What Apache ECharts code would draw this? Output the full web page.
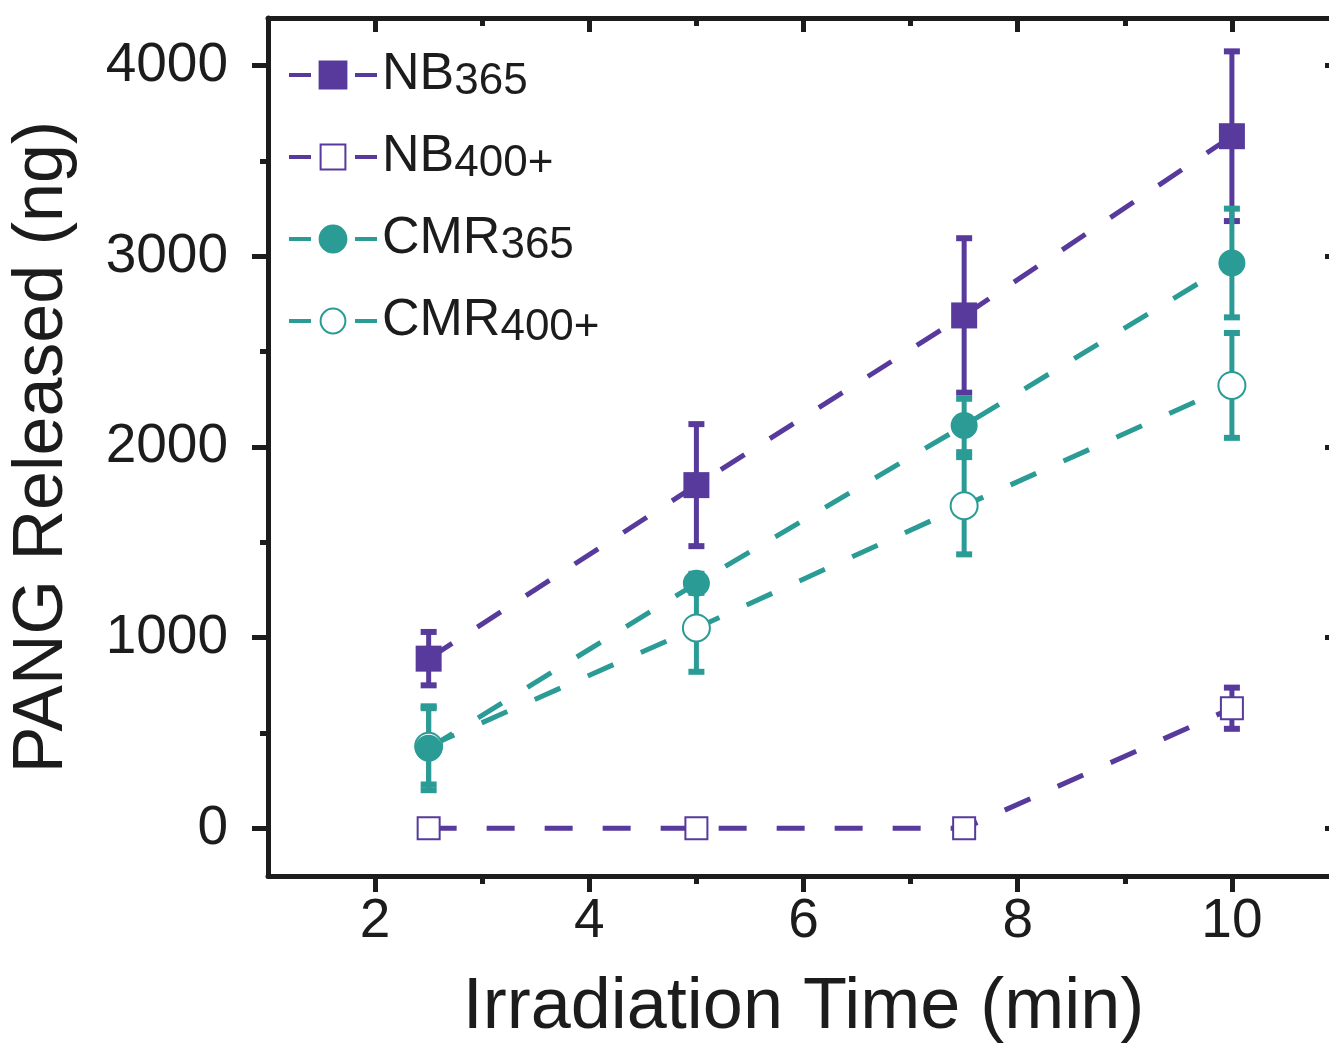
<!DOCTYPE html>
<html>
<head>
    <meta charset="utf-8">
    <title>PANG Released</title>
    <script src="https://cdn.jsdelivr.net/npm/echarts@6.0.0/dist/echarts.min.js"></script>
    <style>
        html, body {
            margin: 0;
            padding: 0;
            background: #fff;
        }

        #chart {
            width: 1329px;
            height: 1051px;
        }
    </style>
</head>
<body>
<div id="chart"></div>
<script type="text/javascript">
    // 照射时间 (min)
    var times = [2.5, 5, 7.5, 10];

    var nb365 = [890, 1800, 2690, 3630];
    var nb365Err = [140, 320, 405, 445];

    var nb400 = [0, 0, 0, 630];
    var nb400Err = [0, 0, 0, 108];

    var cmr365 = [420, 1285, 2113, 2965];
    var cmr365Err = [220, 50, 140, 285];

    var cmr400 = [430, 1051, 1692, 2323];
    var cmr400Err = [200, 230, 255, 275];

    var xLabels = [2, 4, 6, 8, 10];
    var xMinor = [3, 5, 7, 9];
    var yLabels = [0, 1000, 2000, 3000, 4000];
    var yMinor = [500, 1500, 2500, 3500];

    var purple = '#573a9b';
    var teal = '#2b9b95';
    var ink = '#1c1c1c';
    var font = '"Liberation Sans", Arial, sans-serif';

    function pairs(ys) {
        return times.map(function (t, i) {
            return [t, ys[i]];
        });
    }

    function lineSeries(name, ys, symbol, size, color) {
        return {
            name: name,
            type: 'line',
            data: pairs(ys),
            symbol: symbol,
            symbolSize: size,
            z: 3,
            lineStyle: {color: color, width: 5, type: [28, 30]},
            itemStyle: {color: color, borderColor: color, borderWidth: symbol.indexOf('empty') === 0 ? 5 : 0},
            emphasis: {disabled: true}
        };
    }

    // 误差棒
    function errorBars(name, ys, errs, color) {
        var data = [];
        for (var i = 0; i < times.length; i++) {
            if (errs[i] > 0) data.push([times[i], ys[i] - errs[i], ys[i] + errs[i]]);
        }
        return {
            name: name + ' err',
            type: 'custom',
            z: 2,
            data: data,
            renderItem: function (params, api) {
                var x = api.value(0);
                var lo = api.coord([x, api.value(1)]);
                var hi = api.coord([x, api.value(2)]);
                var w = 8;
                return {
                    type: 'group',
                    children: [
                        {type: 'line', shape: {x1: lo[0], y1: lo[1], x2: hi[0], y2: hi[1]}, style: {stroke: color, lineWidth: 5}},
                        {type: 'line', shape: {x1: lo[0] - w, y1: lo[1], x2: lo[0] + w, y2: lo[1]}, style: {stroke: color, lineWidth: 6}},
                        {type: 'line', shape: {x1: hi[0] - w, y1: hi[1], x2: hi[0] + w, y2: hi[1]}, style: {stroke: color, lineWidth: 6}}
                    ]
                };
            }
        };
    }

    function frameAxis(pos, ticks, len, inside, show, extra) {
        var ax = {
            type: 'value',
            position: pos,
            axisLine: {show: show, onZero: false, lineStyle: {color: ink, width: 5}},
            axisTick: {show: true, inside: inside, length: len, customValues: ticks, lineStyle: {color: ink, width: 5}},
            axisLabel: {show: false},
            splitLine: {show: false}
        };
        for (var k in extra) ax[k] = extra[k];
        return ax;
    }

    function plain(v) {
        return String(v);
    }

    var xRange = {min: 1, max: 11};
    var yRange = {min: -250, max: 4250};

    var xMain = frameAxis('bottom', xLabels, 16, false, true, xRange);
    xMain.axisLabel = {show: true, customValues: xLabels, formatter: plain, margin: 18, fontSize: 55, color: ink, fontFamily: font};
    xMain.name = 'Irradiation Time (min)';
    xMain.nameLocation = 'middle';
    xMain.nameGap = 96;
    xMain.nameTextStyle = {fontSize: 72, color: ink, fontFamily: font};

    var yMain = frameAxis('left', yLabels, 16, false, true, yRange);
    yMain.axisLabel = {show: true, customValues: yLabels, formatter: plain, margin: 40, fontSize: 55, color: ink, fontFamily: font};
    yMain.name = 'PANG Released (ng)';
    yMain.nameLocation = 'middle';
    yMain.nameGap = 190;
    yMain.nameTextStyle = {fontSize: 70, color: ink, fontFamily: font};

    var names = ['NB365', 'NB400+', 'CMR365', 'CMR400+'];

    var option = {
        backgroundColor: '#fff',
        animation: false,
        grid: {left: 268, top: 18, right: -10, bottom: 175, outerBoundsMode: 'none', containLabel: false},
        legend: {
            orient: 'vertical',
            left: 282,
            top: 41,
            itemWidth: 88,
            itemHeight: 31,
            itemGap: 24,
            data: names,
            lineStyle: {type: [22, 44], width: 4},
            itemStyle: {borderWidth: 4},
            formatter: function (name) {
                var m = name.match(/^([A-Z]+)(.*)$/);
                return '{m|' + m[1] + '}{s|' + m[2] + '}';
            },
            textStyle: {
                color: ink,
                fontFamily: font,
                rich: {
                    m: {fontSize: 52, fontFamily: font, color: ink, lineHeight: 40},
                    s: {fontSize: 44, fontFamily: font, color: ink, lineHeight: 40, padding: [14, 0, 0, 0]}
                }
            }
        },
        xAxis: [
            xMain,
            frameAxis('bottom', xMinor, 8, false, false, xRange),
            frameAxis('top', xLabels, 14, true, true, xRange),
            frameAxis('top', xMinor, 8, true, false, xRange)
        ],
        yAxis: [
            yMain,
            frameAxis('left', yMinor, 8, false, false, yRange),
            frameAxis('right', yLabels, 14, true, true, yRange),
            frameAxis('right', yMinor, 8, true, false, yRange)
        ],
        series: [
            errorBars('NB365', nb365, nb365Err, purple),
            errorBars('NB400+', nb400, nb400Err, purple),
            errorBars('CMR365', cmr365, cmr365Err, teal),
            errorBars('CMR400+', cmr400, cmr400Err, teal),
            lineSeries('NB365', nb365, 'rect', 26, purple),
            lineSeries('NB400+', nb400, 'emptyRect', 22, purple),
            lineSeries('CMR400+', cmr400, 'emptyCircle', 27, teal),
            lineSeries('CMR365', cmr365, 'circle', 27, teal)
        ]
    };

    var myChart = echarts.init(document.getElementById('chart'));
    myChart.setOption(option);
</script>
</body>
</html>
